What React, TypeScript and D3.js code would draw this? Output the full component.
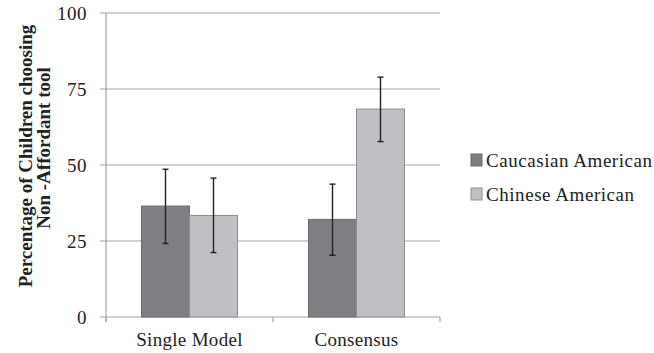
import React from "react";
import * as d3 from "d3";

const categories = ["Single Model", "Consensus"];
const seriesNames = ["Caucasian American", "Chinese American"];
const seriesColors = ["#7e7f83", "#bfc0c4"];
const seriesStroke = ["#6a6b6e", "#8e8f92"];
// values [series][category]
const means = [
  [36.5, 32.1],
  [33.4, 68.4],
];
const errLow = [
  [24.2, 20.3],
  [21.2, 57.7],
];
const errHigh = [
  [48.6, 43.7],
  [45.7, 78.9],
];
const yTicks = [0, 25, 50, 75, 100];

const width = 654;
const height = 353;
const margin = { top: 13, right: 214, bottom: 36, left: 106 };

const FONT = "'Liberation Serif', 'DejaVu Serif', serif";

const App = () => {
  const x = d3
    .scaleBand()
    .domain(categories)
    .range([margin.left, width - margin.right]);

  const x1 = d3
    .scaleBand()
    .domain(seriesNames)
    .range([0, x.bandwidth()])
    .paddingOuter(0.74)
    .paddingInner(0);

  const y = d3
    .scaleLinear()
    .domain([0, 100])
    .range([height - margin.bottom, margin.top]);

  const plotRight = width - margin.right;

  return (
    <svg
      width={width}
      height={height}
      style={{ position: "absolute", left: 0, top: 0, background: "#fff" }}
    >
      {/* gridlines */}
      {yTicks.map((t) => (
        <line
          key={"g" + t}
          x1={margin.left - 6}
          x2={plotRight}
          y1={y(t)}
          y2={y(t)}
          stroke="#a3a3a3"
          strokeWidth={1.2}
        />
      ))}
      {/* y axis */}
      <line
        x1={margin.left}
        x2={margin.left}
        y1={y(100)}
        y2={y(0) + 5}
        stroke="#a3a3a3"
        strokeWidth={1.2}
      />
      {/* x ticks */}
      {[0, 1, 2].map((i) => {
        const xx = margin.left + i * x.bandwidth();
        return (
          <line
            key={"xt" + i}
            x1={xx}
            x2={xx}
            y1={y(0)}
            y2={y(0) + 5}
            stroke="#a3a3a3"
            strokeWidth={1.2}
          />
        );
      })}
      {/* y tick labels */}
      {yTicks.map((t) => (
        <text
          key={"yl" + t}
          x={margin.left - 19}
          y={y(t)}
          dy="0.35em"
          textAnchor="end"
          fontFamily={FONT}
          fontSize={19}
          letterSpacing={0.5}
          fill="#222"
        >
          {t}
        </text>
      ))}
      {/* bars */}
      {categories.map((c, ci) =>
        seriesNames.map((s, si) => (
          <rect
            key={c + s}
            x={(x(c) as number) + (x1(s) as number)}
            y={y(means[si][ci])}
            width={x1.bandwidth()}
            height={y(0) - y(means[si][ci])}
            fill={seriesColors[si]}
            stroke={seriesStroke[si]}
            strokeWidth={1}
          />
        ))
      )}
      {/* error bars */}
      {categories.map((c, ci) =>
        seriesNames.map((s, si) => {
          const cx = (x(c) as number) + (x1(s) as number) + x1.bandwidth() / 2;
          return (
            <g key={"e" + c + s} stroke="#222" strokeWidth={1.4}>
              <line x1={cx} x2={cx} y1={y(errLow[si][ci])} y2={y(errHigh[si][ci])} />
              <line x1={cx - 3} x2={cx + 3} y1={y(errLow[si][ci])} y2={y(errLow[si][ci])} />
              <line x1={cx - 3} x2={cx + 3} y1={y(errHigh[si][ci])} y2={y(errHigh[si][ci])} />
            </g>
          );
        })
      )}
      {/* x labels */}
      {categories.map((c) => (
        <text
          key={"xl" + c}
          x={(x(c) as number) + x.bandwidth() / 2}
          y={346}
          textAnchor="middle"
          fontFamily={FONT}
          fontSize={19}
          letterSpacing={0.3}
          fill="#222"
        >
          {c}
        </text>
      ))}
      {/* y title */}
      <text
        transform="rotate(-90)"
        textAnchor="middle"
        fontFamily={FONT}
        fontSize={19}
        fontWeight="bold"
        fill="#222"
      >
        <tspan x={-156} y={32}>Percentage of Children choosing</tspan>
        <tspan x={-148} y={50}>Non -Affordant tool</tspan>
      </text>
      {/* legend */}
      {seriesNames.map((s, si) => (
        <g key={"lg" + s} transform={`translate(471,${154 + si * 34})`}>
          <rect
            width={11}
            height={12}
            fill={seriesColors[si]}
            stroke={seriesStroke[si]}
            strokeWidth={1}
          />
          <text
            x={15}
            y={6}
            dy="0.36em"
            fontFamily={FONT}
            fontSize={19}
            letterSpacing={0.55}
            fill="#222"
          >
            {s}
          </text>
        </g>
      ))}
    </svg>
  );
};

export default App;
